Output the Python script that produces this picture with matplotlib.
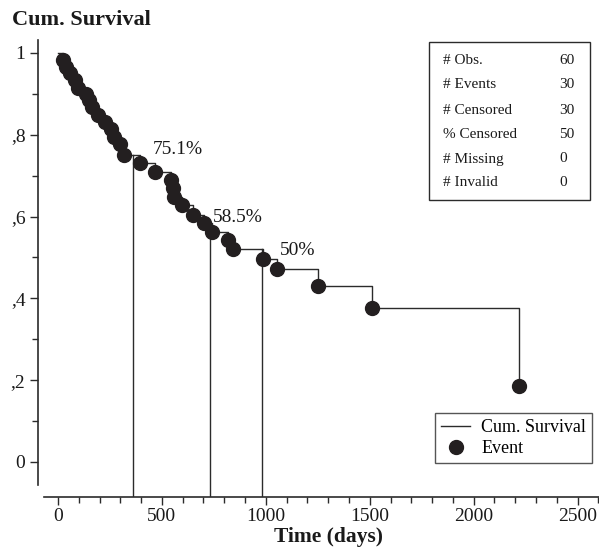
import matplotlib
matplotlib.use("Agg")
import matplotlib.pyplot as plt
from matplotlib.ticker import MultipleLocator, FixedLocator
from matplotlib.lines import Line2D

plt.rcParams['font.family'] = ['Liberation Serif', 'DejaVu Serif']

# Event times (days) and cumulative survival after each event
event_times = [24, 40, 60, 80, 95, 135, 150, 165, 195, 225, 255, 268, 298, 318,
               395, 467, 545, 552, 560, 597, 650, 703, 741, 818, 842, 987,
               1054, 1251, 1511, 2218]
event_surv = [0.983, 0.966, 0.951, 0.933, 0.914, 0.900, 0.885, 0.868, 0.848,
              0.831, 0.815, 0.795, 0.778, 0.751,
              0.731, 0.709, 0.690, 0.670, 0.648, 0.628, 0.604, 0.585, 0.562,
              0.543, 0.521, 0.497, 0.472, 0.430, 0.377, 0.186]

# Reference time points and labels
ref_times = [360, 730, 980]
ref_labels = ["75.1%", "58.5%", "50%"]
ref_label_pos = [(577, 0.763), (866, 0.597), (1155, 0.518)]

stats_names = ["# Obs.", "# Events", "# Censored", "% Censored", "# Missing", "# Invalid"]
stats_values = ["60", "30", "30", "50", "0", "0"]

yticks = [0, 0.2, 0.4, 0.6, 0.8, 1.0]
ytick_labels = ["0", ",2", ",4", ",6", ",8", "1"]
xticks = [0, 500, 1000, 1500, 2000, 2500]

W, H = 599, 549
fig = plt.figure(figsize=(W / 100, H / 100), dpi=100)
ax = fig.add_axes([38 / W, 1 - 497 / H, 561 / W, (497 - 35) / H])

line_col = "#2b2b2b"
dot_col = "#231f20"

st_t = [0] + event_times
st_s = [1.0] + event_surv
ax.step(st_t, st_s, where="post", color=line_col, lw=1.0, zorder=2)


def surv_at(t):
    s = 1.0
    for et, es in zip(event_times, event_surv):
        if et <= t:
            s = es
    return s


ymin, ymax = -0.0856, 1.044
for t in ref_times:
    ax.plot([t, t], [ymin, surv_at(t)], color=line_col, lw=1.0, zorder=2)

ax.plot(event_times, event_surv, "o", color=dot_col, ms=10, zorder=3)

for lab, (tx, ty) in zip(ref_labels, ref_label_pos):
    ax.text(tx, ty, lab, ha="center", va="center", fontsize=14, color="#1a1a1a")

ax.set_xlim(-96, 2603)
ax.set_ylim(ymin, ymax)

for s in ["top", "right"]:
    ax.spines[s].set_visible(False)
ax.spines["left"].set_bounds(-0.056, 1.032)
ax.spines["bottom"].set_bounds(-67, 2603)
ax.spines["left"].set_color(line_col)
ax.spines["bottom"].set_color(line_col)
ax.spines["left"].set_linewidth(1.2)
ax.spines["bottom"].set_linewidth(1.2)

ax.set_yticks(yticks)
ax.set_yticklabels(ytick_labels)
ax.yaxis.set_minor_locator(FixedLocator([0.1, 0.3, 0.5, 0.7, 0.9]))
ax.set_xticks(xticks)
ax.xaxis.set_minor_locator(MultipleLocator(100))
ax.tick_params(axis="both", which="major", length=6, width=1, color=line_col,
               labelsize=14, labelcolor="#1a1a1a")
ax.tick_params(axis="both", which="minor", length=4, width=1, color=line_col)
ax.tick_params(axis="x", pad=2)
ax.tick_params(axis="y", pad=3)

fig.text(12 / W, 1 - 20 / H, "Cum. Survival", fontsize=16, fontweight="bold",
         ha="left", va="center", color="#1a1a1a")
fig.text(328 / W, 1 - 537 / H, "Time (days)", fontsize=15.5, fontweight="bold",
         ha="center", va="center", color="#1a1a1a")

# Stats box
bx0, by0, bx1, by1 = 429, 42, 590, 200
fig.patches.append(plt.Rectangle((bx0 / W, 1 - by1 / H), (bx1 - bx0) / W, (by1 - by0) / H,
                                 transform=fig.transFigure, fill=True, facecolor="white",
                                 edgecolor=line_col, lw=1.0, zorder=5))
row_y = [60, 85, 110, 134, 159, 183]
for name, val, y in zip(stats_names, stats_values, row_y):
    fig.text(443 / W, 1 - y / H, name, fontsize=11, ha="left", va="center",
             color="#1a1a1a", zorder=6)
    fig.text(559 / W, 1 - y / H, val, fontsize=11, ha="left", va="center",
             color="#1a1a1a", zorder=6)

# Legend
handles = [Line2D([0], [0], color=line_col, lw=1.0),
           Line2D([0], [0], marker="o", color=dot_col, lw=0, ms=10)]
leg = ax.legend(handles, ["Cum. Survival", "Event"], loc="upper left",
                bbox_to_anchor=(435 / W, 1 - 413 / H), bbox_transform=fig.transFigure,
                frameon=True, fancybox=False, fontsize=13, handlelength=1.6,
                borderpad=0.35, labelspacing=0.2, handletextpad=0.6, borderaxespad=0)
leg.get_frame().set_edgecolor(line_col)
leg.get_frame().set_linewidth(1.0)

fig.savefig("out.png", dpi=100)
